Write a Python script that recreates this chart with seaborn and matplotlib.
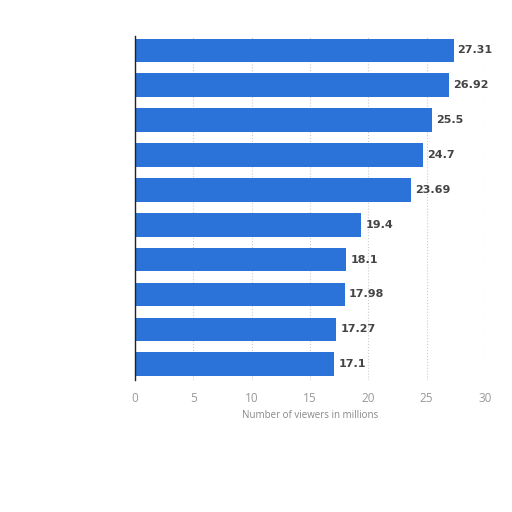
import pandas as pd
import matplotlib.pyplot as plt
import seaborn as sns

# values, top bar first
Categories = ["A", "B", "C", "D", "E", "F", "G", "H", "I", "J"]
Viewers = [27.31, 26.92, 25.5, 24.7, 23.69, 19.4, 18.1, 17.98, 17.27, 17.1]
Labels = ["27.31", "26.92", "25.5", "24.7", "23.69", "19.4", "18.1", "17.98", "17.27", "17.1"]
XTicks = [0, 5, 10, 15, 20, 25, 30]


def main():
    df = pd.DataFrame({"Category": Categories, "Viewers": Viewers})

    sns.set_style("white")
    plt.rcParams["font.family"] = ["Open Sans", "DejaVu Sans"]

    fig = plt.figure(figsize=(5.12, 5.12), dpi=100)
    ax = fig.add_axes([0.264, 0.258, 0.683, 0.672])

    sns.barplot(data=df, x="Viewers", y="Category", orient="h",
                color="#2b73d9", saturation=1, width=0.68, linewidth=0, ax=ax)

    for i, (v, lab) in enumerate(zip(Viewers, Labels)):
        ax.text(v + 0.35, i, lab, va="center", ha="left", family="DejaVu Sans",
                fontsize=8, fontweight="bold", color="#444444")

    ax.set_xlim(0, 30)
    ax.set_ylim(9.45, -0.42)
    ax.set_xticks(XTicks)
    ax.set_xticklabels([str(t) for t in XTicks], color="#999999", fontsize=8.5)
    ax.set_yticks([])
    ax.set_ylabel("")
    ax.set_xlabel("Number of viewers in millions", color="#888888", fontsize=7, labelpad=3)
    ax.tick_params(axis="x", length=0, pad=9)

    ax.grid(True, axis="x", linestyle=":", color="#cccccc", linewidth=0.8)
    ax.set_axisbelow(True)

    for s in ["top", "right", "bottom"]:
        ax.spines[s].set_visible(False)
    ax.spines["left"].set_color("#222222")
    ax.spines["left"].set_linewidth(1)

    fig.savefig("out.png", dpi=100)


if __name__ == "__main__":
    main()
